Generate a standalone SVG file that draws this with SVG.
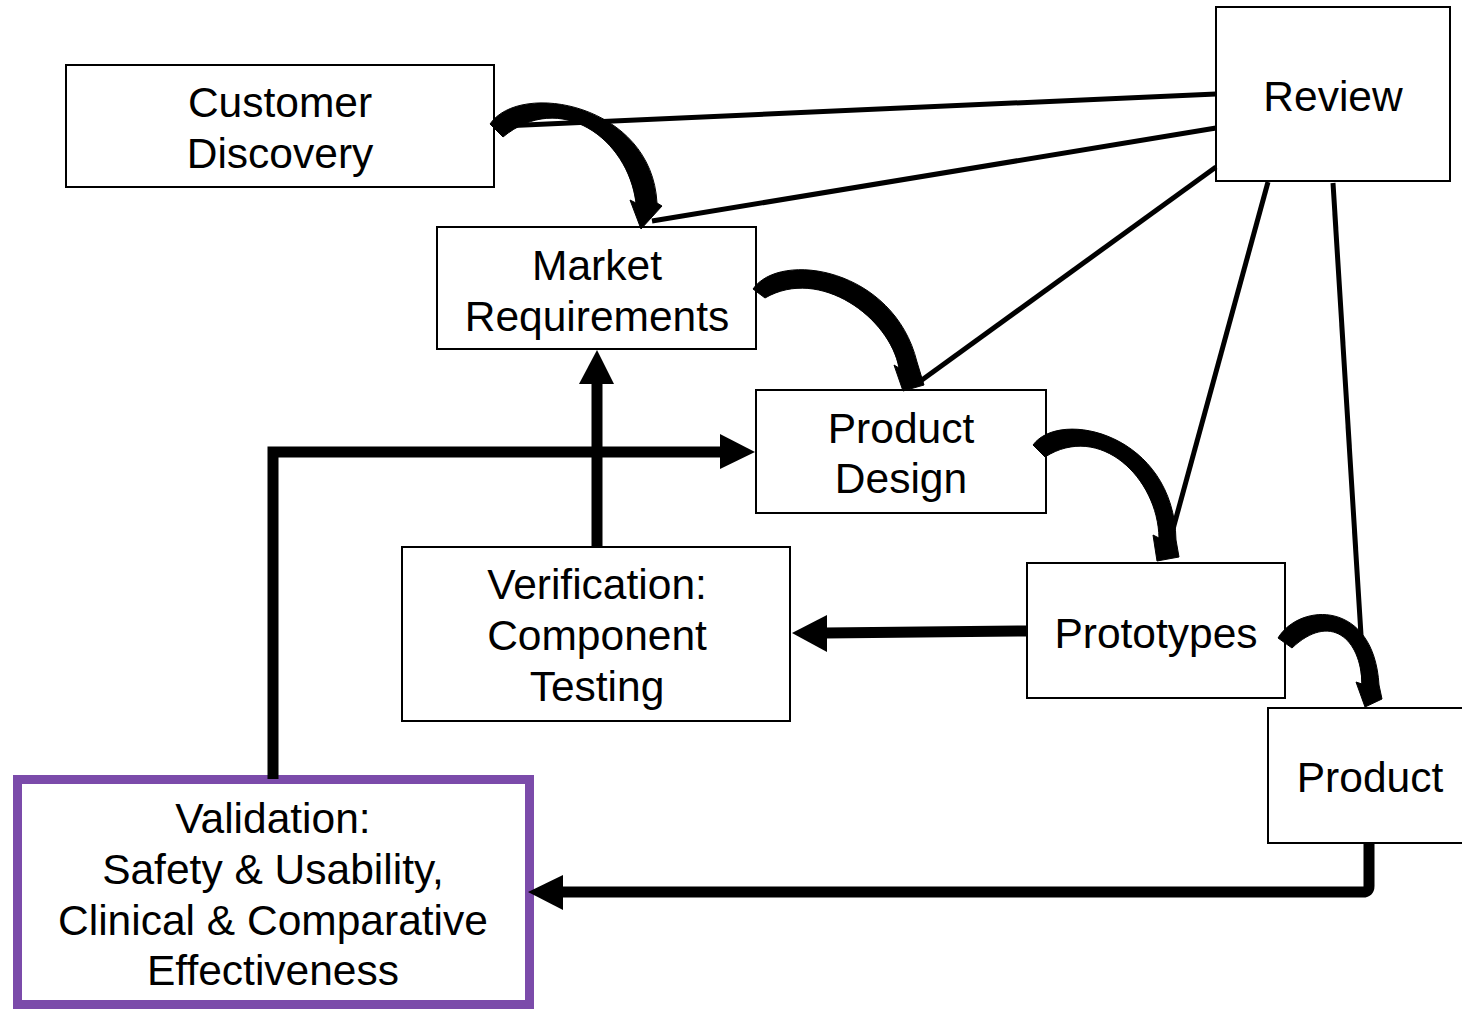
<svg xmlns="http://www.w3.org/2000/svg" width="1462" height="1010" viewBox="0 0 1462 1010">
<style>
.box{fill:#fff;stroke:#000;stroke-width:2}
.lbl{font-family:"Liberation Sans",Arial,sans-serif;font-size:42.5px;fill:#000;text-anchor:middle}
.ln{stroke:#000;stroke-width:5;fill:none}
.thick{stroke:#000;stroke-width:11;fill:none}
.ca{fill:#000;stroke:#000;stroke-width:1;stroke-linejoin:round}
</style>
<rect width="1462" height="1010" fill="#fff"/>
<g id="customer-discovery"><rect class="box" x="66" y="65" width="428" height="122"/><text class="lbl" x="280" y="117">Customer</text><text class="lbl" x="280" y="168">Discovery</text></g>
<g id="market-requirements"><rect class="box" x="437" y="227" width="319" height="122"/><text class="lbl" x="597" y="280">Market</text><text class="lbl" x="597" y="331">Requirements</text></g>
<g id="product-design"><rect class="box" x="756" y="390" width="290" height="123"/><text class="lbl" x="901" y="443">Product</text><text class="lbl" x="901" y="493">Design</text></g>
<g id="verification"><rect class="box" x="402" y="547" width="388" height="174"/><text class="lbl" x="597" y="599">Verification:</text><text class="lbl" x="597" y="650">Component</text><text class="lbl" x="597" y="701">Testing</text></g>
<g id="prototypes"><rect class="box" x="1027" y="563" width="258" height="135"/><text class="lbl" x="1156" y="648">Prototypes</text></g>
<g id="review"><rect class="box" x="1216" y="7" width="234" height="174"/><text class="lbl" x="1333" y="111">Review</text></g>
<g id="product"><rect class="box" x="1268" y="708" width="200" height="135"/><text class="lbl" x="1370" y="792">Product</text></g>
<g id="validation"><rect x="17.5" y="779.5" width="512" height="225" fill="#fff" stroke="#7B4BAA" stroke-width="9"/><text class="lbl" x="273" y="833">Validation:</text><text class="lbl" x="273" y="884">Safety &amp; Usability,</text><text class="lbl" x="273" y="935">Clinical &amp; Comparative</text><text class="lbl" x="273" y="985">Effectiveness</text></g>
<g id="connectors">
<line class="ln" x1="1216" y1="94" x2="500" y2="126"/>
<line class="ln" x1="1216" y1="128" x2="652" y2="221"/>
<line class="ln" x1="1216" y1="167" x2="915" y2="385"/>
<line class="ln" x1="1268" y1="182" x2="1170" y2="540"/>
<line class="ln" x1="1333" y1="183" x2="1365" y2="700"/>
<path class="thick" d="M597,547 V380"/>
<polygon points="579,384 614,384 597,350"/>
<path class="thick" d="M273,779 V452 H722"/>
<polygon points="720,434 720,469 755,452"/>
<path class="thick" d="M1027,631 L825,633"/>
<polygon points="827,615 827,652 792,633"/>
<path class="thick" d="M1369,843 V886 Q1369,892 1363,892 H560"/>
<polygon points="563,875 563,910 528,892"/>
<path class="ca" d="M490,124 C520,80 652,104 657,203 L662,206 L641,229 L630,200 L636,203 C628,138 560,90 503,137 Z"/>
<path class="ca" d="M753,289 C780,250 894,268 917,362 L924,385 L903,391 L894,365 L899,368 C890,318 820,266 765,298 Z"/>
<path class="ca" d="M1033,445 C1060,408 1174,434 1176,540 L1179,557 L1157,561 L1153,535 L1159,538 C1158,478 1100,422 1045,457 Z"/>
<path class="ca" d="M1278,638 C1300,602 1374,600 1379,685 L1382,699 L1365,707 L1356,682 L1362,684 C1361,638 1330,612 1292,648 Z"/>
</g>
</svg>
